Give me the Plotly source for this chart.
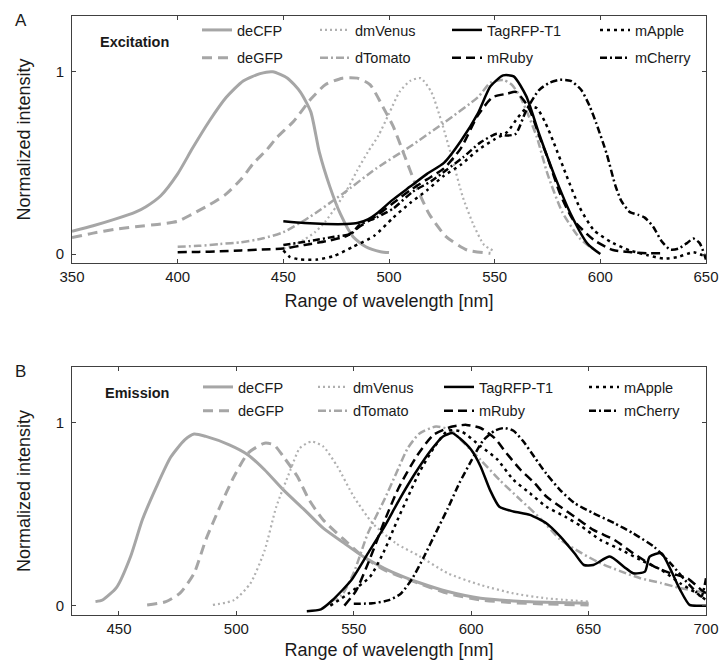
import plotly.graph_objects as go

# ---------------- Excitation data (panel A) ----------------
ex_deCFP_nm = [350, 360, 370, 380, 385, 392, 400, 407, 415, 423, 431, 439, 445, 452, 458, 463, 467, 472, 477, 483, 489, 496, 500]
ex_deCFP = [0.125, 0.155, 0.19, 0.23, 0.26, 0.32, 0.44, 0.58, 0.73, 0.86, 0.95, 0.99, 1.0, 0.965, 0.89, 0.78, 0.56, 0.37, 0.22, 0.095, 0.04, 0.013, 0.008]

ex_deGFP_nm = [350, 360, 370, 380, 392, 400, 407, 415, 423, 430, 436, 442, 447, 455, 463, 470, 478, 485, 491, 497, 502, 507, 513, 519, 527, 537, 548]
ex_deGFP = [0.09, 0.115, 0.135, 0.15, 0.165, 0.18, 0.22, 0.27, 0.33, 0.41, 0.50, 0.57, 0.64, 0.73, 0.85, 0.93, 0.965, 0.965, 0.93, 0.81, 0.70, 0.55, 0.37, 0.22, 0.096, 0.022, 0.004]

ex_dmVenus_nm = [450, 455, 460, 465, 470, 475, 480, 485, 490, 495, 500, 505, 510, 515, 520, 525, 530, 535, 540, 545, 550]
ex_dmVenus = [0.03, 0.05, 0.08, 0.12, 0.18, 0.26, 0.35, 0.46, 0.56, 0.65, 0.77, 0.89, 0.95, 0.965, 0.89, 0.72, 0.52, 0.31, 0.16, 0.05, 0.015]

ex_dTomato_nm = [400, 410, 420, 430, 440, 450, 462, 478, 494, 510, 526, 542, 548, 554, 558, 562, 566, 570, 575, 582, 590, 595, 598]
ex_dTomato = [0.04, 0.045, 0.055, 0.065, 0.085, 0.12, 0.20, 0.33, 0.47, 0.59, 0.72, 0.86, 0.94, 0.955, 0.93, 0.865, 0.76, 0.64, 0.44, 0.23, 0.09, 0.04, 0.02]

ex_TagRFP_nm = [450, 460, 470, 480, 485, 490, 495, 502, 510, 518, 526, 534, 542, 548, 554, 559, 565, 571, 578, 586, 594, 600]
ex_TagRFP = [0.18, 0.17, 0.165, 0.165, 0.17, 0.19, 0.23, 0.30, 0.37, 0.44, 0.50, 0.62, 0.77, 0.92, 0.98, 0.975, 0.865, 0.66, 0.44, 0.22, 0.056, 0.0]

ex_mRuby_nm = [400, 410, 420, 430, 440, 450, 460, 470, 480, 486, 494, 502, 510, 518, 526, 534, 542, 549, 556, 560, 564, 567, 571, 575, 581, 587, 597, 606, 615, 622, 630]
ex_mRuby = [0.01, 0.012, 0.015, 0.02, 0.025, 0.03, 0.05, 0.07, 0.10, 0.15, 0.21, 0.28, 0.35, 0.41, 0.47, 0.58, 0.76, 0.86, 0.88, 0.89, 0.84, 0.78, 0.65, 0.53, 0.33, 0.19, 0.077, 0.022, 0.01, 0.005, 0.005]

ex_mApple_nm = [450, 453, 458, 466, 474, 483, 493, 502, 510, 518, 526, 534, 542, 550, 556, 561, 566, 570, 574, 578, 584, 590, 597, 606, 614, 622, 630, 637, 644, 650]
ex_mApple = [0.02, -0.015, -0.03, -0.03, -0.01, 0.04, 0.10, 0.20, 0.28, 0.35, 0.43, 0.49, 0.57, 0.63, 0.67, 0.75, 0.81, 0.80, 0.72, 0.61, 0.43, 0.26, 0.13, 0.06, 0.02, -0.005, -0.025, -0.015, 0.01, -0.015]

ex_mCherry_nm = [450, 462, 474, 482, 486, 494, 502, 511, 520, 527, 535, 543, 551, 556, 560, 565, 571, 576, 581, 586, 591, 595, 598, 603, 607, 610, 614, 618, 621, 625, 629, 633, 637, 641, 644, 647, 650]
ex_mCherry = [0.05, 0.07, 0.095, 0.11, 0.16, 0.20, 0.25, 0.34, 0.40, 0.46, 0.53, 0.61, 0.66, 0.65, 0.66, 0.79, 0.90, 0.94, 0.956, 0.95, 0.90, 0.81, 0.72, 0.55, 0.38, 0.29, 0.23, 0.215, 0.20, 0.15, 0.07, 0.025, 0.03, 0.06, 0.085, 0.06, -0.03]

# ---------------- Emission data (panel B) ----------------
em_deCFP_nm = [440, 443, 449, 455, 460, 466, 472, 478, 482, 487, 497, 505, 512, 520, 529, 537, 546, 554, 563, 571, 578, 590, 604, 618, 632, 650]
em_deCFP = [0.022, 0.031, 0.10, 0.27, 0.47, 0.65, 0.81, 0.905, 0.937, 0.924, 0.878, 0.823, 0.742, 0.632, 0.523, 0.423, 0.34, 0.268, 0.204, 0.159, 0.125, 0.077, 0.04, 0.026, 0.019, 0.013]

em_deGFP_nm = [462, 470, 476, 482, 487, 493, 499, 505, 512, 516, 520, 526, 531, 537, 546, 554, 563, 574, 590, 604, 618, 632, 650]
em_deGFP = [0.004, 0.022, 0.068, 0.177, 0.36, 0.54, 0.705, 0.833, 0.887, 0.878, 0.814, 0.705, 0.577, 0.468, 0.359, 0.268, 0.195, 0.14, 0.067, 0.031, 0.016, 0.009, 0.004]

em_dmVenus_nm = [490, 499, 506, 512, 517, 523, 527, 532, 537, 543, 550, 558, 568, 578, 590, 604, 618, 632, 650]
em_dmVenus = [0.004, 0.03, 0.122, 0.30, 0.54, 0.74, 0.86, 0.896, 0.869, 0.76, 0.595, 0.45, 0.34, 0.27, 0.177, 0.113, 0.067, 0.04, 0.022]

em_dTomato_nm = [540, 545, 550, 556, 563, 568, 573, 578, 585, 591, 597, 604, 612, 621, 630, 638, 647, 655, 664, 672, 681, 689, 698, 700]
em_dTomato = [0.02, 0.06, 0.18, 0.395, 0.578, 0.72, 0.86, 0.94, 0.978, 0.96, 0.887, 0.796, 0.687, 0.578, 0.469, 0.36, 0.287, 0.232, 0.186, 0.15, 0.123, 0.096, 0.077, 0.086]

em_TagRFP_nm = [530, 536, 541, 549, 556, 563, 569, 576, 583, 588, 592, 595, 600, 604, 608, 612, 618, 625, 632, 638, 644, 648, 652, 659, 665, 669, 674, 676, 681, 685, 689, 693, 698, 700]
em_TagRFP = [-0.03, -0.02, 0.031, 0.14, 0.285, 0.43, 0.57, 0.72, 0.851, 0.924, 0.942, 0.915, 0.851, 0.76, 0.632, 0.54, 0.514, 0.496, 0.45, 0.377, 0.286, 0.222, 0.222, 0.268, 0.213, 0.177, 0.186, 0.268, 0.286, 0.195, 0.086, 0.004, 0.0, 0.0]

em_mRuby_nm = [546, 551, 557, 563, 569, 577, 584, 592, 598, 604, 610, 615, 621, 627, 632, 638, 644, 652, 661, 669, 678, 685, 692, 698, 700]
em_mRuby = [0.0, 0.082, 0.26, 0.46, 0.64, 0.82, 0.933, 0.978, 0.987, 0.97, 0.915, 0.833, 0.742, 0.669, 0.596, 0.54, 0.486, 0.414, 0.359, 0.286, 0.213, 0.177, 0.15, 0.086, 0.068]

em_mApple_nm = [540, 548, 557, 563, 568, 574, 578, 584, 590, 596, 604, 611, 618, 625, 632, 640, 647, 655, 664, 672, 681, 689, 696, 700]
em_mApple = [0.0, 0.068, 0.159, 0.30, 0.45, 0.62, 0.73, 0.86, 0.955, 0.95, 0.87, 0.80, 0.687, 0.614, 0.54, 0.486, 0.432, 0.359, 0.304, 0.25, 0.195, 0.122, 0.068, 0.031]

em_mCherry_nm = [550, 558, 565, 570, 575, 580, 585, 590, 595, 600, 605, 610, 614, 618, 622, 627, 632, 638, 644, 652, 661, 669, 678, 685, 691, 695, 698, 700]
em_mCherry = [0.01, 0.013, 0.03, 0.065, 0.15, 0.27, 0.40, 0.53, 0.67, 0.79, 0.90, 0.955, 0.97, 0.955, 0.90, 0.81, 0.72, 0.63, 0.56, 0.505, 0.45, 0.395, 0.32, 0.23, 0.14, 0.086, 0.05, 0.15]

names = ["deCFP", "deGFP", "dmVenus", "dTomato", "TagRFP-T1", "mRuby", "mApple", "mCherry"]
excitation = {
    "deCFP": (ex_deCFP_nm, ex_deCFP), "deGFP": (ex_deGFP_nm, ex_deGFP),
    "dmVenus": (ex_dmVenus_nm, ex_dmVenus), "dTomato": (ex_dTomato_nm, ex_dTomato),
    "TagRFP-T1": (ex_TagRFP_nm, ex_TagRFP), "mRuby": (ex_mRuby_nm, ex_mRuby),
    "mApple": (ex_mApple_nm, ex_mApple), "mCherry": (ex_mCherry_nm, ex_mCherry),
}
emission = {
    "deCFP": (em_deCFP_nm, em_deCFP), "deGFP": (em_deGFP_nm, em_deGFP),
    "dmVenus": (em_dmVenus_nm, em_dmVenus), "dTomato": (em_dTomato_nm, em_dTomato),
    "TagRFP-T1": (em_TagRFP_nm, em_TagRFP), "mRuby": (em_mRuby_nm, em_mRuby),
    "mApple": (em_mApple_nm, em_mApple), "mCherry": (em_mCherry_nm, em_mCherry),
}

GRAY = "#a6a6a6"
BLACK = "#000000"
styles = {
    "deCFP": dict(color=GRAY, width=3, dash="solid"),
    "deGFP": dict(color=GRAY, width=3, dash="10px,6px"),
    "dmVenus": dict(color="#b0b0b0", width=2.2, dash="2px,3px"),
    "dTomato": dict(color=GRAY, width=2.5, dash="8px,3px,2px,3px"),
    "TagRFP-T1": dict(color=BLACK, width=2.5, dash="solid"),
    "mRuby": dict(color=BLACK, width=2.5, dash="9px,5px"),
    "mApple": dict(color=BLACK, width=2.5, dash="3px,4px"),
    "mCherry": dict(color=BLACK, width=2.5, dash="7px,3px,2px,3px"),
}
column = {"deCFP": 0, "deGFP": 0, "dmVenus": 1, "dTomato": 1,
          "TagRFP-T1": 2, "mRuby": 2, "mApple": 3, "mCherry": 3}

FONT = "Liberation Sans, Arial, sans-serif"
fig = go.Figure()

for panel, data, xa, ya in [(0, excitation, "x", "y"), (1, emission, "x2", "y2")]:
    for n in names:
        xs, ys = data[n]
        lg = "legend" if panel == 0 and column[n] == 0 else "legend%d" % (panel * 4 + column[n] + 1)
        fig.add_trace(go.Scatter(
            x=xs, y=ys, mode="lines", name=n, line=dict(**styles[n], shape="spline", smoothing=0.6),
            xaxis=xa, yaxis=ya, legend=lg, legendgroup="%s_%d" % (n, panel),
        ))

L, R, T, B = 72, 13, 16, 45
W, H = 719, 660
pw, ph = W - L - R, H - T - B


def px2x(px):
    return (px - L) / pw


def py2y(py):
    return (H - B - py) / ph


axis_common = dict(showline=True, linecolor="#404040", linewidth=1, mirror="ticks",
                   ticks="inside", ticklen=4, tickcolor="#404040", showgrid=False, zeroline=False,
                   tickfont=dict(family=FONT, size=15, color="#1a1a1a"), automargin=False)

layout = dict(
    width=W, height=H, margin=dict(l=L, r=R, t=T, b=B), plot_bgcolor="white", paper_bgcolor="white",
    font=dict(family=FONT, color="#1a1a1a"),
    xaxis=dict(domain=[0, 1], anchor="y", range=[350, 650], tickvals=[350, 400, 450, 500, 550, 600, 650],
               title=dict(text="Range of wavelength [nm]", font=dict(size=18), standoff=10), **axis_common),
    yaxis=dict(domain=[py2y(263), 1], anchor="x", range=[-0.049, 1.306], tickvals=[0, 1],
               ticklabelstandoff=4,
               title=dict(text="Normalized intensity", font=dict(size=18), standoff=20), **axis_common),
    xaxis2=dict(domain=[0, 1], anchor="y2", range=[430, 700], tickvals=[450, 500, 550, 600, 650, 700],
                title=dict(text="Range of wavelength [nm]", font=dict(size=18), standoff=11), **axis_common),
    yaxis2=dict(domain=[0, py2y(367)], anchor="x2", range=[-0.051, 1.303], tickvals=[0, 1],
                ticklabelstandoff=4,
                title=dict(text="Normalized intensity", font=dict(size=18), standoff=20), **axis_common),
)

top_cols = [202, 320, 452, 600]
bot_cols = [203, 318, 444, 589]
for panel, cols, row1, gap in [(0, top_cols, 26, 6), (1, bot_cols, 383, 2)]:
    for c, lx in enumerate(cols):
        key = "legend" if panel == 0 and c == 0 else "legend%d" % (panel * 4 + c + 1)
        layout[key] = dict(x=px2x(lx - 5), y=py2y(row1 - 12), xanchor="left", yanchor="top",
                           bgcolor="rgba(0,0,0,0)", borderwidth=0, itemwidth=30,
                           tracegroupgap=gap, traceorder="grouped",
                           font=dict(family=FONT, size=14.5, color="#1a1a1a"))

layout["annotations"] = [
    dict(text="A", x=px2x(13), y=py2y(21), xref="paper", yref="paper", xanchor="left", yanchor="middle",
         showarrow=False, font=dict(size=17, family=FONT)),
    dict(text="B", x=px2x(13), y=py2y(371), xref="paper", yref="paper", xanchor="left", yanchor="middle",
         showarrow=False, font=dict(size=17, family=FONT)),
    dict(text="<b>Excitation</b>", x=px2x(98), y=py2y(42), xref="paper", yref="paper", xanchor="left",
         yanchor="middle", showarrow=False, font=dict(size=14.5, family=FONT)),
    dict(text="<b>Emission</b>", x=px2x(103), y=py2y(393), xref="paper", yref="paper", xanchor="left",
         yanchor="middle", showarrow=False, font=dict(size=14.5, family=FONT)),
]
fig.update_layout(**layout)
fig.write_html("out.html", config={"displayModeBar": False},
               post_script="document.body.style.margin='0';document.body.style.overflow='hidden';")
